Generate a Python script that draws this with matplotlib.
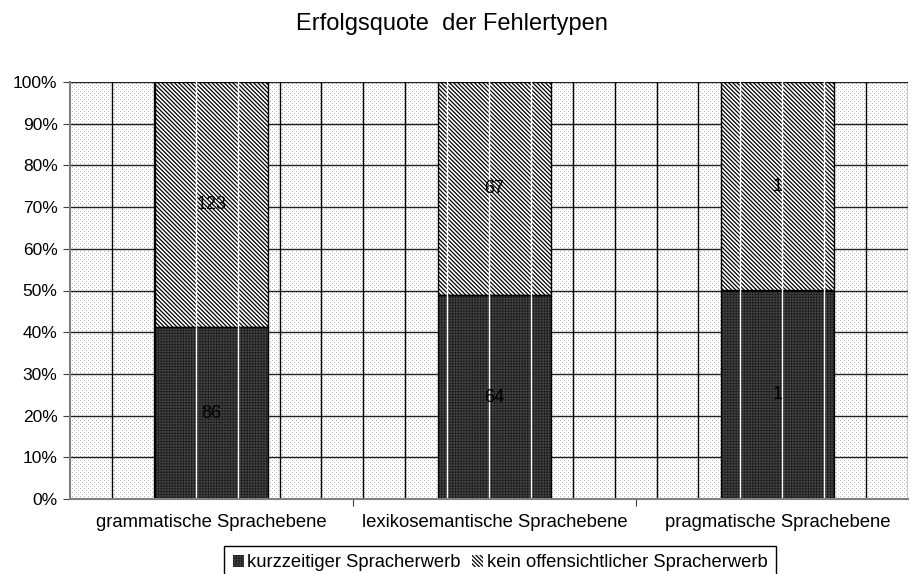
import matplotlib.pyplot as plt
import numpy as np
from matplotlib.patches import Patch
from matplotlib.ticker import PercentFormatter

plt.rcParams["font.family"] = ["Liberation Sans", "DejaVu Sans"]
plt.rcParams["hatch.linewidth"] = 0.9

categories = ["grammatische Sprachebene", "lexikosemantische Sprachebene", "pragmatische Sprachebene"]
kurz = [86, 64, 1]
kein = [123, 67, 1]
series_names = ["kurzzeitiger Spracherwerb", "kein offensichtlicher Spracherwerb"]

kurz = np.array(kurz, dtype=float)
kein = np.array(kein, dtype=float)
total = kurz + kein
kurz_pct = kurz / total * 100
kein_pct = kein / total * 100

fig = plt.figure(figsize=(9.11, 5.74), dpi=100)
ax = fig.add_axes([70 / 911, 1 - 499 / 574, 838 / 911, 417 / 574])

x = np.arange(len(categories))
xmin, xmax = -0.5, -0.5 + 838 / 283
ax.set_xlim(xmin, xmax)
ax.set_ylim(0, 100)

# dotted background texture, one pixel per cell
tex = np.ones((417, 838))
tex[::4, ::4] = 0.72
tex[2::4, 2::4] = 0.72
ax.imshow(tex, cmap="gray", vmin=0, vmax=1, interpolation="nearest", aspect="auto",
          extent=(xmin, xmax, 0, 100), zorder=0)

# grid
for yv in range(10, 101, 10):
    ax.axhline(yv, color="#202020", lw=1.0, zorder=1)
vgrid = np.linspace(xmin, xmax, 21)[1:]
for xv in vgrid:
    ax.axvline(xv, color="black", lw=1.0, zorder=1)

w = 0.4
dark_hatch = "++++++"
diag_hatch = "\\" * 8
ax.bar(x, kurz_pct, w, color="#101010", hatch=dark_hatch, edgecolor="#3c3c3c", lw=0, zorder=2)
ax.bar(x, kein_pct, w, bottom=kurz_pct, color="white", hatch=diag_hatch, edgecolor="black", lw=0, zorder=2)
ax.bar(x, kurz_pct, w, fill=False, edgecolor="black", lw=1, zorder=3)
ax.bar(x, kein_pct, w, bottom=kurz_pct, fill=False, edgecolor="black", lw=1, zorder=3)

# white streaks where grid lines cross the bars
for xv in vgrid:
    for xi in x:
        if xi - w / 2 + 0.02 < xv < xi + w / 2 - 0.02:
            ax.plot([xv, xv], [0, 100], color="white", lw=1.0, zorder=4)

for xi, a, b, va, vb in zip(x, kurz_pct, kein_pct, kurz, kein):
    ax.text(xi, a / 2, f"{va:.0f}", ha="center", va="center", fontsize=13, color="black", zorder=5)
    ax.text(xi, a + b / 2, f"{vb:.0f}", ha="center", va="center", fontsize=13, color="black", zorder=5)

ax.set_yticks(range(0, 101, 10))
ax.yaxis.set_major_formatter(PercentFormatter(decimals=0))
ax.set_xticks([0.5, 1.5])
ax.set_xticklabels([])
ax.set_xticks(x, minor=True)
ax.set_xticklabels(categories, minor=True)
ax.tick_params(axis="x", which="minor", length=0, pad=11, labelsize=13.3)
ax.tick_params(axis="x", which="major", length=5, color="#404040")
ax.tick_params(axis="y", length=5, labelsize=12.5, color="#404040", pad=4)

for s in ["top", "right"]:
    ax.spines[s].set_visible(False)
for s in ["left", "bottom"]:
    ax.spines[s].set_color("#808080")
    ax.spines[s].set_linewidth(1.5)
    ax.spines[s].set_zorder(6)

fig.text(452 / 911, 1 - 24 / 574, "Erfolgsquote  der Fehlertypen", ha="center", va="center", fontsize=17)

handles = [Patch(facecolor="#101010", hatch=dark_hatch, edgecolor="#3c3c3c", lw=0),
           Patch(facecolor="white", hatch=diag_hatch, edgecolor="black", lw=0)]
leg = fig.legend(handles, series_names, loc="upper center", bbox_to_anchor=(500 / 911, 1 - 546 / 574),
                 ncol=2, fontsize=13.2, frameon=True, fancybox=False, edgecolor="black",
                 framealpha=1, handlelength=0.6, handleheight=0.6, handletextpad=0.2,
                 columnspacing=0.6, borderpad=0.45, borderaxespad=0)
leg.get_frame().set_linewidth(1)

fig.savefig("out.png", dpi=100)
